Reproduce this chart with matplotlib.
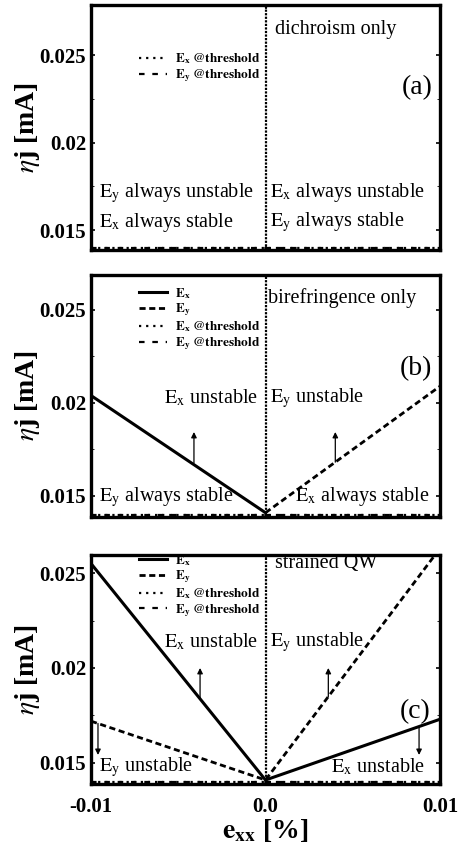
import matplotlib
matplotlib.use("Agg")
import matplotlib.pyplot as plt

plt.rcParams['font.family'] = 'serif'
plt.rcParams['font.serif'] = ['Liberation Serif', 'STIXGeneral', 'DejaVu Serif']
plt.rcParams['mathtext.fontset'] = 'stix'

# strain axis (e_xx in %)
strain = [-0.01, 0.0, 0.01]
strain_left = [-0.01, 0.0]
strain_right = [0.0, 0.01]

# threshold current, same in every panel
threshold = [0.01400, 0.01400, 0.01400]

# (b) birefringence only: instability boundaries
bir_ex = [0.0204, 0.0141]
bir_ey = [0.0141, 0.0209]

# (c) strained QW: instability boundaries
qw_ex = [0.0255, 0.0141, 0.0173]
qw_ey = [0.0172, 0.0141, 0.0263]

ylims = [(0.01386, 0.02786), (0.01387, 0.02688), (0.01389, 0.02595)]
yticks = [0.015, 0.02, 0.025]
ytick_labels = ['0.015', '0.02', '0.025']
xtick_labels = ['-0.01', '0.0', '0.01']

fig = plt.figure(figsize=(4.61, 8.44), dpi=100)
W, H = 461.0, 844.0
# axes boxes in pixels: left, top, right, bottom
boxes = [(91, 5, 440, 250), (91, 275, 440, 517), (91, 555, 440, 784)]
axes = []
for (l, t, r, b) in boxes:
    ax = fig.add_axes([l / W, 1 - b / H, (r - l) / W, (b - t) / H])
    axes.append(ax)

EX = r'$\mathbf{E}_\mathbf{x}$'
EY = r'$\mathbf{E}_\mathbf{y}$'
EXt = r'$\mathrm{E}_\mathrm{x}$'
EYt = r'$\mathrm{E}_\mathrm{y}$'
FS = 14.5


def draw_threshold(ax):
    ax.plot(strain, threshold, color='k', lw=1.6, linestyle=(0, (1, 2.2)),
            label=EX + r' $\mathbf{@threshold}$')
    ax.plot(strain, threshold, color='k', lw=1.6, linestyle=(0, (2.5, 3.5)),
            label=EY + r' $\mathbf{@threshold}$')


def style(ax, i):
    ax.set_xlim(-0.01, 0.01)
    ax.set_ylim(*ylims[i])
    ax.axvline(0.0, color='k', lw=1.6, linestyle=(0, (1, 0.6)), zorder=1)
    for s in ax.spines.values():
        s.set_linewidth(2.4)
    ax.set_yticks(yticks)
    ax.set_yticklabels(ytick_labels)
    ax.set_yticks([0.0175, 0.0225], minor=True)
    ax.set_xticks(strain)
    ax.tick_params(which='both', direction='in', top=True, right=True,
                   length=3, width=1.2, labelsize=15)
    ax.tick_params(which='minor', length=2, width=0.6)
    ax.tick_params(axis='x', pad=9)
    for lab in ax.get_yticklabels():
        lab.set_fontweight('bold')
    if i == 2:
        ax.set_xticklabels(xtick_labels, fontweight='bold')
        ax.set_xlabel(r'$\mathbf{e}_\mathbf{xx}$ [%]', fontsize=20,
                      fontweight='bold', labelpad=0)
    else:
        ax.set_xticklabels([])
    ax.set_ylabel(r'$\eta$j [mA]', fontsize=20, fontweight='bold')
    ax.yaxis.set_label_coords(-0.14, 0.5)


def legend(ax, y):
    leg = ax.legend(loc='upper right', bbox_to_anchor=(0.485, y),
                    frameon=False, fontsize=9.5, handlelength=2.1,
                    handletextpad=0.6, labelspacing=0.08, borderpad=0,
                    borderaxespad=0)
    for t in leg.get_texts():
        t.set_fontweight('bold')


def up_arrow(ax, x, y0, y1):
    ax.annotate('', xy=(x, y1), xytext=(x, y0),
                arrowprops=dict(arrowstyle='-|>', color='k', lw=0.9,
                                mutation_scale=8, shrinkA=0, shrinkB=0))


# (a) dichroism only
ax = axes[0]
draw_threshold(ax)
style(ax, 0)
legend(ax, 0.81)
ax.text(0.527, 0.898, 'dichroism only', transform=ax.transAxes,
        fontsize=FS, va='center')
ax.text(0.978, 0.661, '(a)', transform=ax.transAxes, fontsize=20,
        ha='right', va='center')
ax.text(0.024, 0.233, EYt + ' always unstable', transform=ax.transAxes,
        fontsize=FS, va='center')
ax.text(0.024, 0.114, EXt + ' always stable', transform=ax.transAxes,
        fontsize=FS, va='center')
ax.text(0.513, 0.233, EXt + ' always unstable', transform=ax.transAxes,
        fontsize=FS, va='center')
ax.text(0.513, 0.114, EYt + ' always stable', transform=ax.transAxes,
        fontsize=FS, va='center')

# (b) birefringence only
ax = axes[1]
ax.plot(strain_left, bir_ex, color='k', lw=2.2, label=EX, zorder=3)
ax.plot(strain_right, bir_ey, color='k', lw=2.0, linestyle=(0, (2.2, 1.3)),
        label=EY, zorder=3)
draw_threshold(ax)
style(ax, 1)
legend(ax, 0.955)
ax.text(0.507, 0.905, 'birefringence only', transform=ax.transAxes,
        fontsize=FS, va='center')
ax.text(0.978, 0.612, '(b)', transform=ax.transAxes, fontsize=20,
        ha='right', va='center')
ax.text(0.478, 0.492, EXt + ' unstable', transform=ax.transAxes,
        fontsize=FS, va='center', ha='right')
ax.text(0.513, 0.492, EYt + ' unstable', transform=ax.transAxes,
        fontsize=FS, va='center')
ax.text(0.024, 0.083, EYt + ' always stable', transform=ax.transAxes,
        fontsize=FS, va='center')
ax.text(0.972, 0.083, EXt + ' always stable', transform=ax.transAxes,
        fontsize=FS, va='center', ha='right')
up_arrow(ax, -0.0041, 0.01678, 0.01844)
up_arrow(ax, 0.0040, 0.01682, 0.01844)

# (c) strained QW
ax = axes[2]
ax.plot(strain, qw_ex, color='k', lw=2.2, label=EX, zorder=3)
ax.plot(strain, qw_ey, color='k', lw=2.0, linestyle=(0, (2.2, 1.3)),
        label=EY, zorder=3)
draw_threshold(ax)
style(ax, 2)
legend(ax, 1.01)
ax.text(0.527, 0.965, 'strained QW', transform=ax.transAxes,
        fontsize=FS, va='center')
ax.text(0.972, 0.314, '(c)', transform=ax.transAxes, fontsize=20,
        ha='right', va='center')
ax.text(0.478, 0.62, EXt + ' unstable', transform=ax.transAxes,
        fontsize=FS, va='center', ha='right')
ax.text(0.513, 0.62, EYt + ' unstable', transform=ax.transAxes,
        fontsize=FS, va='center')
ax.text(0.024, 0.074, EYt + ' unstable', transform=ax.transAxes,
        fontsize=FS, va='center')
ax.text(0.958, 0.074, EXt + ' unstable', transform=ax.transAxes,
        fontsize=FS, va='center', ha='right')
up_arrow(ax, -0.00375, 0.01838, 0.0200)
up_arrow(ax, 0.0036, 0.01849, 0.0200)
up_arrow(ax, -0.0096, 0.01708, 0.01542)
up_arrow(ax, 0.0088, 0.01692, 0.01542)

fig.savefig('out.png', dpi=100)
